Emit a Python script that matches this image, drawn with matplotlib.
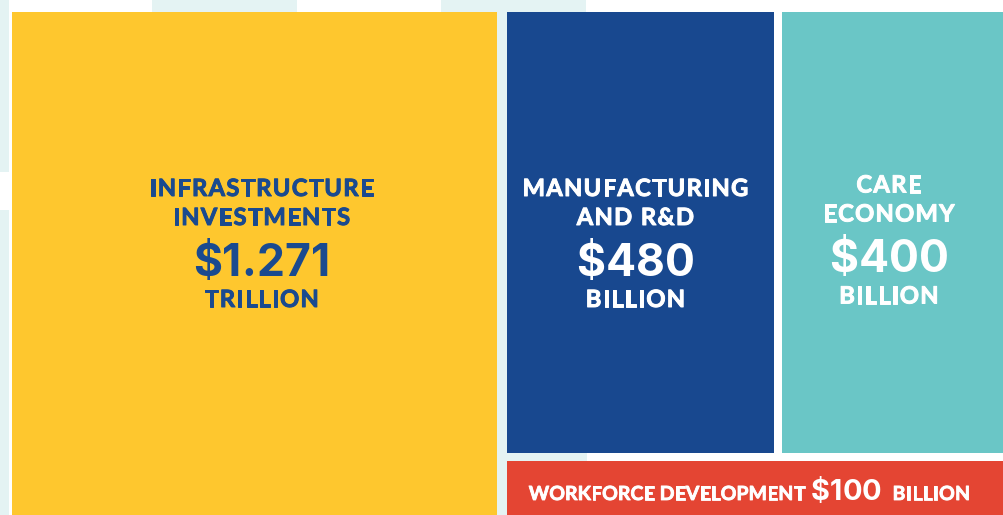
import matplotlib
matplotlib.use("Agg")
import matplotlib.pyplot as plt
import matplotlib.patheffects as pe
from matplotlib.patches import Rectangle
from matplotlib.font_manager import FontProperties

# ---- data ----
categories = ["INFRASTRUCTURE\nINVESTMENTS", "MANUFACTURING\nAND R&D", "CARE\nECONOMY", "WORKFORCE DEVELOPMENT"]
values = [1271, 480, 400, 100]          # billions of dollars
amount_labels = ["$1.271", "$480", "$400", "$100"]
unit_labels = ["TRILLION", "BILLION", "BILLION", "BILLION"]

# ---- style ----
colors = ["#FEC72E", "#18488F", "#6AC6C6", "#E44533"]
text_colors = ["#1A4A8F", "white", "white", "white"]
bg_tint = "#E4F3F3"
LABEL_FONT = "Lato"
NUM_FONT = "Inter"

W, H = 1004, 515
fig = plt.figure(figsize=(W / 100, H / 100), dpi=100)
ax = fig.add_axes([0, 0, 1, 1])
ax.set_xlim(0, W)
ax.set_ylim(H, 0)
ax.axis("off")
fig.canvas.draw()
renderer = fig.canvas.get_renderer()

# background tint blocks (decorative)
for (x0, y0, w, h) in [(152, 0, 145, 14), (441, 0, 145, 14), (0, 0, 9, 172), (0, 210, 9, 305),
                       (497, 0, 10, 515), (497, 453, 90, 8)]:
    ax.add_patch(Rectangle((x0, y0), w, h, facecolor=bg_tint, edgecolor="none", zorder=0))

# ---- layout ----
left, top, right, bottom = 12, 12, W, H
left_col_w = 485
col_gap = 10
inner_gap = 8
bottom_row_h = 54
rects = [(left, top, left_col_w, bottom - top)]
rx0 = left + left_col_w + col_gap
top_row_h = (bottom - top) - bottom_row_h - inner_gap
avail = right - rx0 - inner_gap
w1 = avail * values[1] / (values[1] + values[2])
rects.append((rx0, top, w1, top_row_h))
rects.append((rx0 + w1 + inner_gap, top, avail - w1, top_row_h))
rects.append((rx0, top + top_row_h + inner_gap, right - rx0, bottom_row_h))

for (x0, y0, w, h), c in zip(rects, colors):
    ax.add_patch(Rectangle((x0, y0), w, h, facecolor=c, edgecolor="none", zorder=1))


def char_widths(s, prop):
    out = []
    px = prop.get_size_in_points() * fig.dpi / 72
    for ch in s:
        if ch == " ":
            out.append(px * 0.26)
        else:
            out.append(renderer.get_text_width_height_descent(ch, prop, ismath=False)[0])
    return out


def tracked_width(s, prop, gap):
    ws = char_widths(s, prop)
    return sum(ws) + gap * (len(s) - 1)


def draw_tracked(x_start, baseline, s, prop, gap, color, stroke=0.7):
    ws = char_widths(s, prop)
    x = x_start
    effects = [pe.Stroke(linewidth=stroke, foreground=color), pe.Normal()] if stroke else None
    for ch, w in zip(s, ws):
        if ch != " ":
            ax.text(x, baseline, ch, ha="left", va="baseline", fontproperties=prop,
                    color=color, zorder=2, path_effects=effects)
        x += w + gap
    return x - gap


def draw_centered(cx, baseline, s, prop, gap, color, stroke=0.7):
    tw = tracked_width(s, prop, gap)
    draw_tracked(cx - tw / 2, baseline, s, prop, gap, color, stroke)


lab_prop = FontProperties(family=LABEL_FONT, weight="bold", size=17.1)
num_prop = FontProperties(family=NUM_FONT, weight="bold", size=32)
LAB_GAP, NUM_GAP = 1.3, 0.2
label_dx = [7, -5, -4]      # optical offsets of the text blocks inside each box
label_dy = [0, 0, -3.5]

# ---- labels for the three big blocks ----
for i in range(3):
    x0, y0, w, h = rects[i]
    cx = x0 + w / 2 + label_dx[i]
    l1, l2 = categories[i].split("\n")
    dy = label_dy[i]
    col = text_colors[i]
    draw_centered(cx, 196 + dy, l1, lab_prop, LAB_GAP, col)
    draw_centered(cx, 225 + dy, l2, lab_prop, LAB_GAP, col)
    draw_centered(cx, 276 + dy, amount_labels[i], num_prop, NUM_GAP, col, stroke=0)
    draw_centered(cx, 307 + dy, unit_labels[i], lab_prop, LAB_GAP, col)

# ---- bottom strip label (mixed sizes) ----
x0, y0, w, h = rects[3]
small_prop = FontProperties(family=LABEL_FONT, weight="bold", size=14.0)
big_prop = FontProperties(family=NUM_FONT, weight="bold", size=20.8)
parts = [(categories[3], small_prop, 0.0, 0.6), (amount_labels[3], big_prop, 0.0, 0),
         (unit_labels[3], small_prop, 0.3, 0.6)]
spacers = [6, 11]
total = sum(tracked_width(s, p, g) for s, p, g, _ in parts) + sum(spacers)
x = x0 + (w - total) / 2 - 6
baseline = y0 + 39
for k, (s, p, g, st) in enumerate(parts):
    x = draw_tracked(x, baseline, s, p, g, "white", st)
    if k < len(spacers):
        x += spacers[k]

fig.savefig("out.png", dpi=100)
